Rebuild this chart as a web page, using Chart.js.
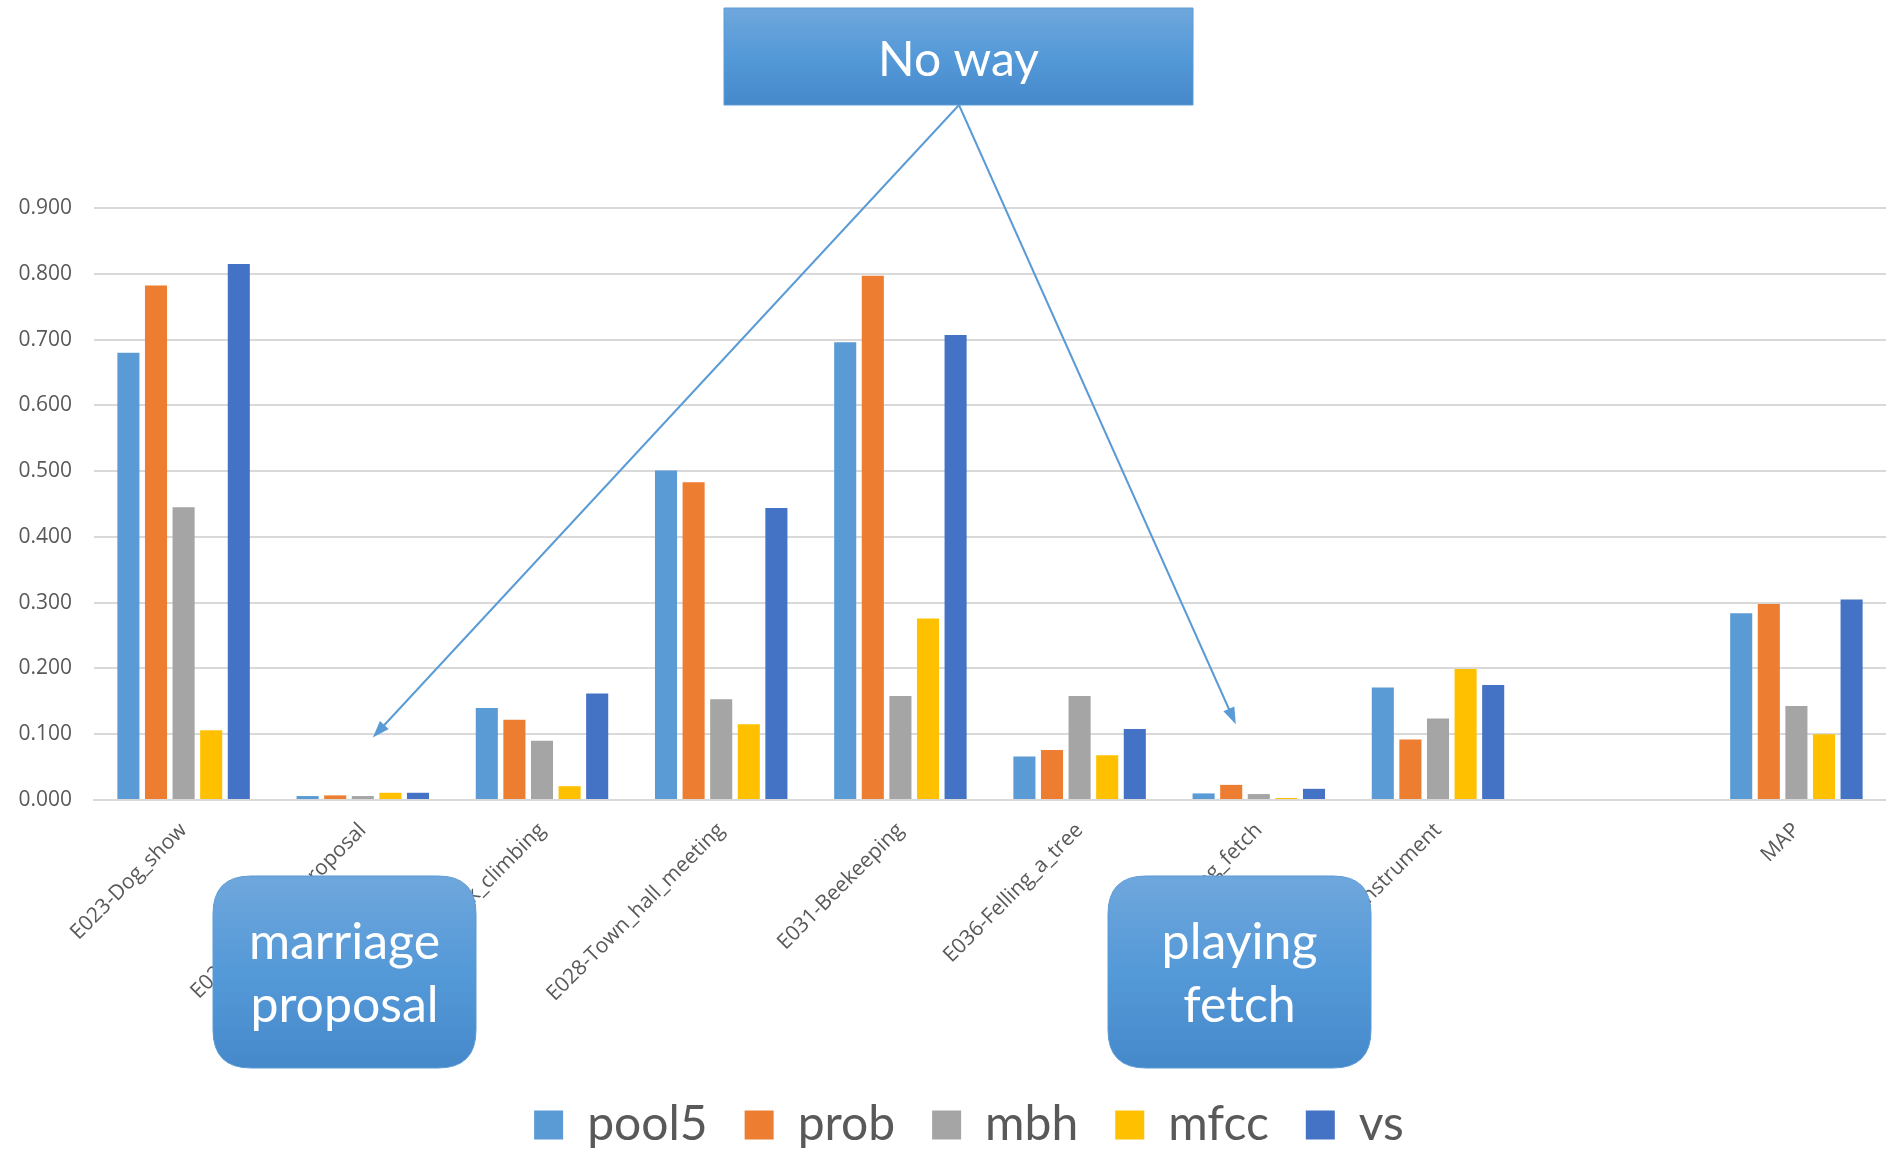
<!DOCTYPE html>
<html>
<head>
<meta charset="utf-8">
<script src="https://cdn.jsdelivr.net/npm/chart.js@4.4.0/dist/chart.umd.min.js"></script>
<style>
  html, body { margin: 0; padding: 0; background: #fff; }
  #wrap { width: 1886px; height: 1149px; }
</style>
</head>
<body>
<div id="wrap"><canvas id="barChart"></canvas></div>
<script>
// data
const categories = ["E023-Dog_show", "E025-Marriage_proposal", "E027-Rock_climbing",
    "E028-Town_hall_meeting", "E031-Beekeeping", "E036-Felling_a_tree",
    "E038-Playing_fetch", "E040-Tuning_musical_instrument", "", "MAP"];
const pool5 = [0.680, 0.006, 0.140, 0.501, 0.696, 0.066, 0.010, 0.171, null, 0.284];
const prob  = [0.782, 0.007, 0.122, 0.483, 0.797, 0.076, 0.023, 0.092, null, 0.298];
const mbh   = [0.445, 0.006, 0.090, 0.153, 0.158, 0.158, 0.009, 0.124, null, 0.143];
const mfcc  = [0.106, 0.011, 0.021, 0.115, 0.276, 0.068, 0.003, 0.199, null, 0.100];
const vs    = [0.815, 0.011, 0.162, 0.444, 0.707, 0.108, 0.017, 0.175, null, 0.305];
const yTicks = [0, 0.1, 0.2, 0.3, 0.4, 0.5, 0.6, 0.7, 0.8, 0.9];

const seriesNames = ["pool5", "prob", "mbh", "mfcc", "vs"];
const seriesColors = ["#5B9BD5", "#ED7D31", "#A5A5A5", "#FFC000", "#4472C4"];

// callout boxes drawn over the chart
function roundRect(ctx, x, y, w, h, r) {
    ctx.beginPath();
    ctx.moveTo(x + r, y);
    ctx.lineTo(x + w - r, y);
    ctx.quadraticCurveTo(x + w, y, x + w, y + r);
    ctx.lineTo(x + w, y + h - r);
    ctx.quadraticCurveTo(x + w, y + h, x + w - r, y + h);
    ctx.lineTo(x + r, y + h);
    ctx.quadraticCurveTo(x, y + h, x, y + h - r);
    ctx.lineTo(x, y + r);
    ctx.quadraticCurveTo(x, y, x + r, y);
    ctx.closePath();
}

function drawBox(ctx, x, y, w, h, r, lines, baselines, font) {
    const g = ctx.createLinearGradient(0, y, 0, y + h);
    g.addColorStop(0, "#6FA7DC");
    g.addColorStop(0.5, "#5499D8");
    g.addColorStop(1, "#4689CB");
    ctx.fillStyle = g;
    roundRect(ctx, x, y, w, h, r);
    ctx.fill();
    ctx.strokeStyle = "#5B9BD5";
    ctx.lineWidth = 1;
    ctx.stroke();
    ctx.fillStyle = "#ffffff";
    ctx.font = font;
    ctx.textAlign = "center";
    ctx.textBaseline = "alphabetic";
    lines.forEach((t, i) => ctx.fillText(t, x + w / 2, baselines[i]));
}

function drawArrow(ctx, x1, y1, x2, y2) {
    const ang = Math.atan2(y2 - y1, x2 - x1);
    const len = 17, half = 6;
    ctx.strokeStyle = "#5B9BD5";
    ctx.fillStyle = "#5B9BD5";
    ctx.lineWidth = 2;
    ctx.beginPath();
    ctx.moveTo(x1, y1);
    ctx.lineTo(x2 - Math.cos(ang) * len * 0.7, y2 - Math.sin(ang) * len * 0.7);
    ctx.stroke();
    ctx.beginPath();
    ctx.moveTo(x2, y2);
    ctx.lineTo(x2 - Math.cos(ang) * len + Math.sin(ang) * half, y2 - Math.sin(ang) * len - Math.cos(ang) * half);
    ctx.lineTo(x2 - Math.cos(ang) * len - Math.sin(ang) * half, y2 - Math.sin(ang) * len + Math.cos(ang) * half);
    ctx.closePath();
    ctx.fill();
}

const callouts = {
    id: "callouts",
    afterLayout(chart) {
        // legend sits a bit right of the canvas centre in the original
        chart.legend.left += 17;
        chart.legend.right += 17;
    },
    afterDraw(chart) {
        const ctx = chart.ctx;
        const xs = chart.scales.x, ys = chart.scales.y;
        ctx.save();
        // arrows from "No way" to the two near-zero groups
        drawArrow(ctx, 959, 105, xs.getPixelForValue(1) + 10, ys.getPixelForValue(0.095));
        drawArrow(ctx, 959, 105, xs.getPixelForValue(6) - 23, ys.getPixelForValue(0.115));
        drawBox(ctx, 724, 8, 469, 97, 0, ["No way"], [76], "48px Lato");
        drawBox(ctx, 213, 876, 263, 192, 38, ["marriage", "proposal"], [959, 1022], "50px Lato");
        drawBox(ctx, 1108, 876, 263, 192, 38, ["playing", "fetch"], [959, 1022], "50px Lato");
        ctx.restore();
    }
};

document.addEventListener("DOMContentLoaded", () => {
    const canvas = document.getElementById("barChart");
    const allSeries = [pool5, prob, mbh, mfcc, vs];

    new Chart(canvas, {
        type: "bar",
        data: {
            labels: categories,
            datasets: allSeries.map((vals, i) => ({
                label: seriesNames[i],
                data: vals,
                backgroundColor: seriesColors[i],
                borderWidth: 0,
                categoryPercentage: 0.77,
                barPercentage: 0.8
            }))
        },
        plugins: [callouts],
        options: {
            responsive: true,
            maintainAspectRatio: false,
            animation: false,
            layout: { padding: { top: 208, left: 18, right: 0, bottom: -10 } },
            plugins: {
                legend: {
                    position: "bottom",
                    labels: {
                        boxWidth: 29,
                        boxHeight: 29,
                        padding: 37,
                        color: "#595959",
                        font: { family: "Lato", size: 48 }
                    }
                },
                tooltip: { enabled: false }
            },
            scales: {
                x: {
                    grid: { display: false },
                    border: { color: "#D9D9D9", width: 2 },
                    ticks: {
                        autoSkip: false,
                        minRotation: 45,
                        maxRotation: 45,
                        padding: 10,
                        color: "#595959",
                        font: { family: "Open Sans", size: 21 }
                    },
                    afterFit: (scale) => {
                        scale.height = 264;
                        scale.paddingLeft = 0;
                        scale.paddingRight = 0;
                    }
                },
                y: {
                    min: 0,
                    max: 0.9,
                    afterBuildTicks: (scale) => { scale.ticks = yTicks.map(v => ({ value: v })); },
                    afterFit: (scale) => { scale.width = 76; },
                    grid: { color: "#D9D9D9", lineWidth: 2, drawTicks: false },
                    border: { display: false },
                    ticks: {
                        padding: 22,
                        color: "#595959",
                        font: { family: "Open Sans", size: 21 },
                        callback: (v) => v.toFixed(3)
                    }
                }
            }
        }
    });
});
</script>
</body>
</html>
